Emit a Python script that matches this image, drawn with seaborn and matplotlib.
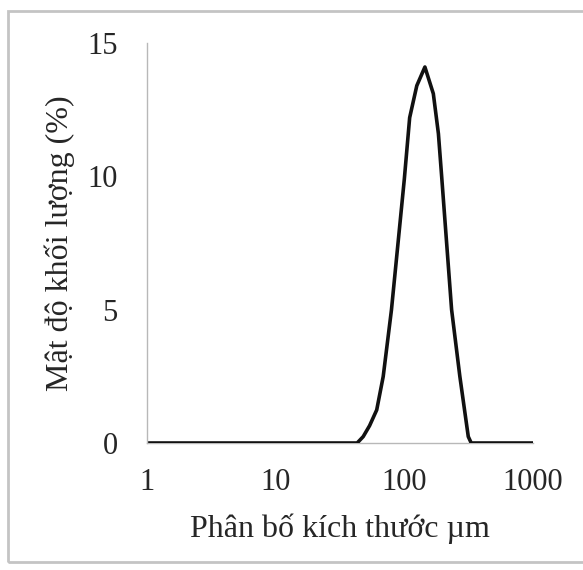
import matplotlib
matplotlib.use("Agg")
import matplotlib.pyplot as plt
from matplotlib.patches import Rectangle
import seaborn as sns
import pandas as pd

# Particle size (µm) and mass density (%)
size_um = [1, 43, 47.9, 53.7, 61, 68.5, 79.4, 100, 110, 125, 144.5,
           168, 184, 195, 233, 270, 314, 331, 1000]
density_pct = [0, 0, 0.24, 0.65, 1.24, 2.49, 4.99, 9.9, 12.2, 13.4, 14.1,
               13.1, 11.6, 10.0, 5.0, 2.5, 0.24, 0, 0]

x_ticks = [1, 10, 100, 1000]
x_tick_labels = ["1", "10", "100", "1000"]
y_ticks = [0, 5, 10, 15]
y_tick_labels = ["0", "5", "10", "15"]

x_label = "Phân bố kích thước µm"
y_label = "Mật độ khối lượng (%)"

sns.set_style("white")
plt.rcParams["font.family"] = ["Liberation Serif", "DejaVu Serif"]

df = pd.DataFrame({"size": size_um, "density": density_pct})

fig = plt.figure(figsize=(5.83, 5.70), dpi=100)
ax = fig.add_axes([147 / 583, 1 - 443 / 570, (533 - 147) / 583, (443 - 43) / 570])

line_ax = sns.lineplot(data=df, x="size", y="density", sort=False, color="#111111",
                       linewidth=2.6, ax=ax)
for ln in line_ax.lines:
    ln.set_solid_joinstyle("round")
    ln.set_solid_capstyle("round")

ax.set_xscale("log")
ax.set_xlim(1, 1000)
ax.set_ylim(0, 15)
ax.set_xticks(x_ticks)
ax.set_xticklabels(x_tick_labels)
ax.set_yticks(y_ticks)
ax.set_yticklabels(y_tick_labels)
ax.minorticks_off()
ax.tick_params(axis="x", length=0, pad=18, labelsize=22)
ax.tick_params(axis="y", length=0, pad=21, labelsize=22)

ax.set_xlabel(x_label, fontsize=23, labelpad=12)
ax.set_ylabel(y_label, fontsize=23, labelpad=9)

for side in ["top", "right"]:
    ax.spines[side].set_visible(False)
for side in ["left", "bottom"]:
    ax.spines[side].set_color("#b8b8b8")
    ax.spines[side].set_linewidth(1.0)
ax.spines["bottom"].set_zorder(0)

# outer chart frame
frame = Rectangle((8 / 583, 1 - 562 / 570), 600 / 583, (562 - 11) / 570,
                  transform=fig.transFigure, fill=False, edgecolor="#c4c4c4",
                  linewidth=2.0, clip_on=False)
fig.patches.append(frame)

fig.savefig("out.png", dpi=100)
